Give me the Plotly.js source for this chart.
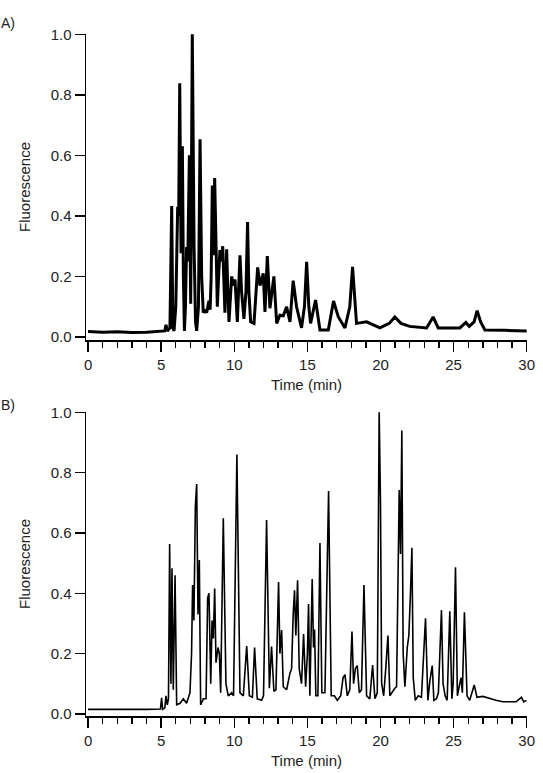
<!DOCTYPE html>
<html>
<head>
<meta charset="utf-8">
<script src="https://cdn.plot.ly/plotly-3.0.1.min.js"></script>
<style>html,body{margin:0;padding:0;background:#fff;}</style>
</head>
<body>
<div id="chart" style="width:543px;height:773px;"></div>
<script>
// Panel A chromatogram (time in min, normalized fluorescence)
const timeA = [0,1,2,3,4,5,5.25,5.33,5.42,5.6,5.72,5.8,5.88,6.0,6.06,6.13,6.2,6.27,6.36,6.45,6.52,6.59,6.66,6.74,6.82,6.93,7.02,7.13,7.25,7.35,7.43,7.55,7.66,7.77,7.88,8.0,8.11,8.27,8.35,8.42,8.5,8.57,8.66,8.75,8.84,8.93,9.02,9.1,9.21,9.36,9.48,9.56,9.64,9.82,9.93,10.05,10.21,10.39,10.5,10.66,10.8,10.91,11.0,11.12,11.35,11.6,11.76,11.98,12.1,12.26,12.44,12.71,12.9,13.12,13.35,13.58,13.81,14.03,14.26,14.6,14.8,14.95,15.1,15.22,15.56,15.86,16.43,16.79,17.11,17.57,17.9,18.09,18.25,18.36,19.05,19.96,20.6,20.98,21.4,22.0,23.15,23.6,23.95,25.43,25.84,26.07,26.4,26.61,26.85,27.14,28.5,30.0];
const fluorA = [0.018,0.016,0.017,0.015,0.016,0.018,0.02,0.04,0.02,0.03,0.433,0.03,0.02,0.1,0.35,0.43,0.4,0.838,0.277,0.63,0.2,0.02,0.1,0.297,0.25,0.6,0.11,1.0,0.3,0.05,0.02,0.1,0.653,0.2,0.08,0.09,0.08,0.12,0.09,0.2,0.5,0.27,0.525,0.3,0.1,0.2,0.287,0.25,0.3,0.08,0.29,0.15,0.05,0.2,0.17,0.19,0.05,0.27,0.15,0.06,0.15,0.38,0.15,0.05,0.045,0.23,0.17,0.21,0.083,0.267,0.095,0.2,0.045,0.072,0.07,0.1,0.05,0.186,0.1,0.03,0.1,0.248,0.1,0.045,0.122,0.023,0.023,0.119,0.067,0.03,0.1,0.232,0.1,0.045,0.05,0.03,0.045,0.066,0.045,0.035,0.03,0.066,0.03,0.03,0.048,0.035,0.05,0.087,0.05,0.023,0.022,0.02];

// Panel B chromatogram
const timeB = [0,2,4,4.95,5.03,5.1,5.25,5.33,5.42,5.5,5.58,5.67,5.74,5.83,5.95,6.06,6.29,6.52,6.74,6.97,7.08,7.15,7.24,7.34,7.43,7.52,7.61,7.7,7.88,8.07,8.18,8.27,8.39,8.48,8.57,8.66,8.75,8.89,8.98,9.07,9.25,9.43,9.59,9.82,9.95,10.18,10.39,10.62,10.85,11.03,11.24,11.39,11.57,11.87,12.0,12.21,12.4,12.55,12.71,12.85,13.03,13.12,13.24,13.35,13.58,13.81,13.92,14.03,14.12,14.21,14.33,14.44,14.6,14.74,14.88,15.0,15.08,15.17,15.24,15.33,15.42,15.49,15.58,15.72,15.86,15.99,16.2,16.45,16.63,16.85,17.05,17.28,17.44,17.57,17.73,17.9,18.05,18.16,18.28,18.41,18.55,18.7,18.87,19.05,19.27,19.46,19.62,19.78,19.91,20.0,20.08,20.22,20.36,20.51,20.64,20.87,20.98,21.1,21.28,21.37,21.46,21.55,21.67,21.83,21.94,22.05,22.15,22.24,22.38,22.58,22.8,23.08,23.24,23.38,23.54,23.65,23.83,23.96,24.17,24.28,24.42,24.56,24.74,24.88,24.97,25.13,25.26,25.38,25.51,25.6,25.74,25.92,26.1,26.41,26.6,27.0,27.46,27.9,28.36,28.8,29.27,29.64,29.8,29.98];
const fluorB = [0.015,0.014,0.015,0.016,0.053,0.015,0.02,0.06,0.03,0.05,0.563,0.1,0.483,0.08,0.46,0.03,0.035,0.05,0.035,0.07,0.2,0.427,0.31,0.69,0.762,0.33,0.51,0.03,0.05,0.05,0.385,0.4,0.1,0.31,0.25,0.416,0.17,0.22,0.2,0.07,0.649,0.1,0.06,0.07,0.06,0.86,0.07,0.06,0.225,0.06,0.055,0.22,0.05,0.045,0.06,0.643,0.085,0.223,0.075,0.08,0.437,0.2,0.278,0.09,0.08,0.135,0.15,0.33,0.41,0.26,0.443,0.15,0.1,0.265,0.09,0.2,0.364,0.06,0.31,0.447,0.22,0.28,0.06,0.06,0.567,0.07,0.07,0.739,0.06,0.06,0.045,0.06,0.12,0.13,0.06,0.08,0.273,0.1,0.15,0.16,0.07,0.08,0.427,0.06,0.05,0.162,0.05,0.07,1.0,0.7,0.1,0.06,0.15,0.26,0.06,0.08,0.085,0.09,0.742,0.53,0.94,0.2,0.09,0.22,0.26,0.4,0.551,0.12,0.045,0.06,0.055,0.317,0.045,0.11,0.16,0.045,0.05,0.07,0.344,0.1,0.06,0.045,0.34,0.05,0.1,0.486,0.06,0.09,0.12,0.07,0.337,0.06,0.045,0.096,0.055,0.058,0.05,0.045,0.04,0.04,0.04,0.055,0.04,0.045];

const xTickStep = 5;   // major x ticks every 5 min, minor every 1 min
const xMinorStep = 1;
const yTickStep = 0.2;
const panelLabels = ['A)','B)'];
const xTitle = 'Time (min)';
const yTitle = 'Fluorescence';

const txt = '#222';
const fontFam = 'Liberation Sans, Arial, sans-serif';
const xRange = [-0.14,30.02];

function xax(anchor){
  return {
    domain:[0,1], anchor:anchor, range:xRange,
    tickmode:'linear', tick0:0, dtick:xTickStep,
    ticks:'outside', ticklen:10, tickwidth:1.4, tickcolor:'#000',
    minor:{dtick:xMinorStep, tick0:0, ticks:'outside', ticklen:6, tickwidth:1.4, tickcolor:'#000', showgrid:false},
    showline:true, linecolor:'#000', linewidth:1.5,
    showgrid:false, zeroline:false,
    tickfont:{size:15, color:txt, family:fontFam},
    title:{text:xTitle, font:{size:15, color:txt, family:fontFam}, standoff:8},
    automargin:false
  };
}
function yax(anchor, dom, lo){
  return {
    domain:dom, anchor:anchor, range:[lo,1.001],
    tickmode:'linear', tick0:0, dtick:yTickStep, tickformat:'.1f',
    ticks:'outside', ticklen:10, tickwidth:1.4, tickcolor:'#000',
    showline:true, linecolor:'#000', linewidth:1.5,
    showgrid:false, zeroline:false,
    tickfont:{size:15, color:txt, family:fontFam},
    title:{text:yTitle, font:{size:15, color:txt, family:fontFam}, standoff:16},
    automargin:false
  };
}

const data = [
  {x:timeA, y:fluorA, xaxis:'x', yaxis:'y', type:'scatter', mode:'lines',
   line:{color:'#000', width:3}},
  {x:timeB, y:fluorB, xaxis:'x2', yaxis:'y2', type:'scatter', mode:'lines',
   line:{color:'#000', width:1.6}}
];

const layout = {
  width:543, height:773,
  margin:{l:86, r:16, t:34, b:57},
  paper_bgcolor:'#fff', plot_bgcolor:'#fff',
  showlegend:false,
  font:{family:fontFam, color:txt},
  xaxis:xax('y'),
  yaxis:yax('x',[0.5513,1],-0.01),
  xaxis2:xax('y2'),
  yaxis2:yax('x2',[0,0.4457],-0.007),
  annotations:[
    {text:panelLabels[0], xref:'paper', yref:'paper', x:-0.197, y:1.016, xanchor:'left', yanchor:'middle', showarrow:false, font:{size:14, color:txt, family:fontFam}},
    {text:panelLabels[1], xref:'paper', yref:'paper', x:-0.197, y:0.456, xanchor:'left', yanchor:'middle', showarrow:false, font:{size:14, color:txt, family:fontFam}}
  ]
};

Plotly.newPlot('chart', data, layout, {displayModeBar:false, staticPlot:true});
</script>
</body>
</html>
